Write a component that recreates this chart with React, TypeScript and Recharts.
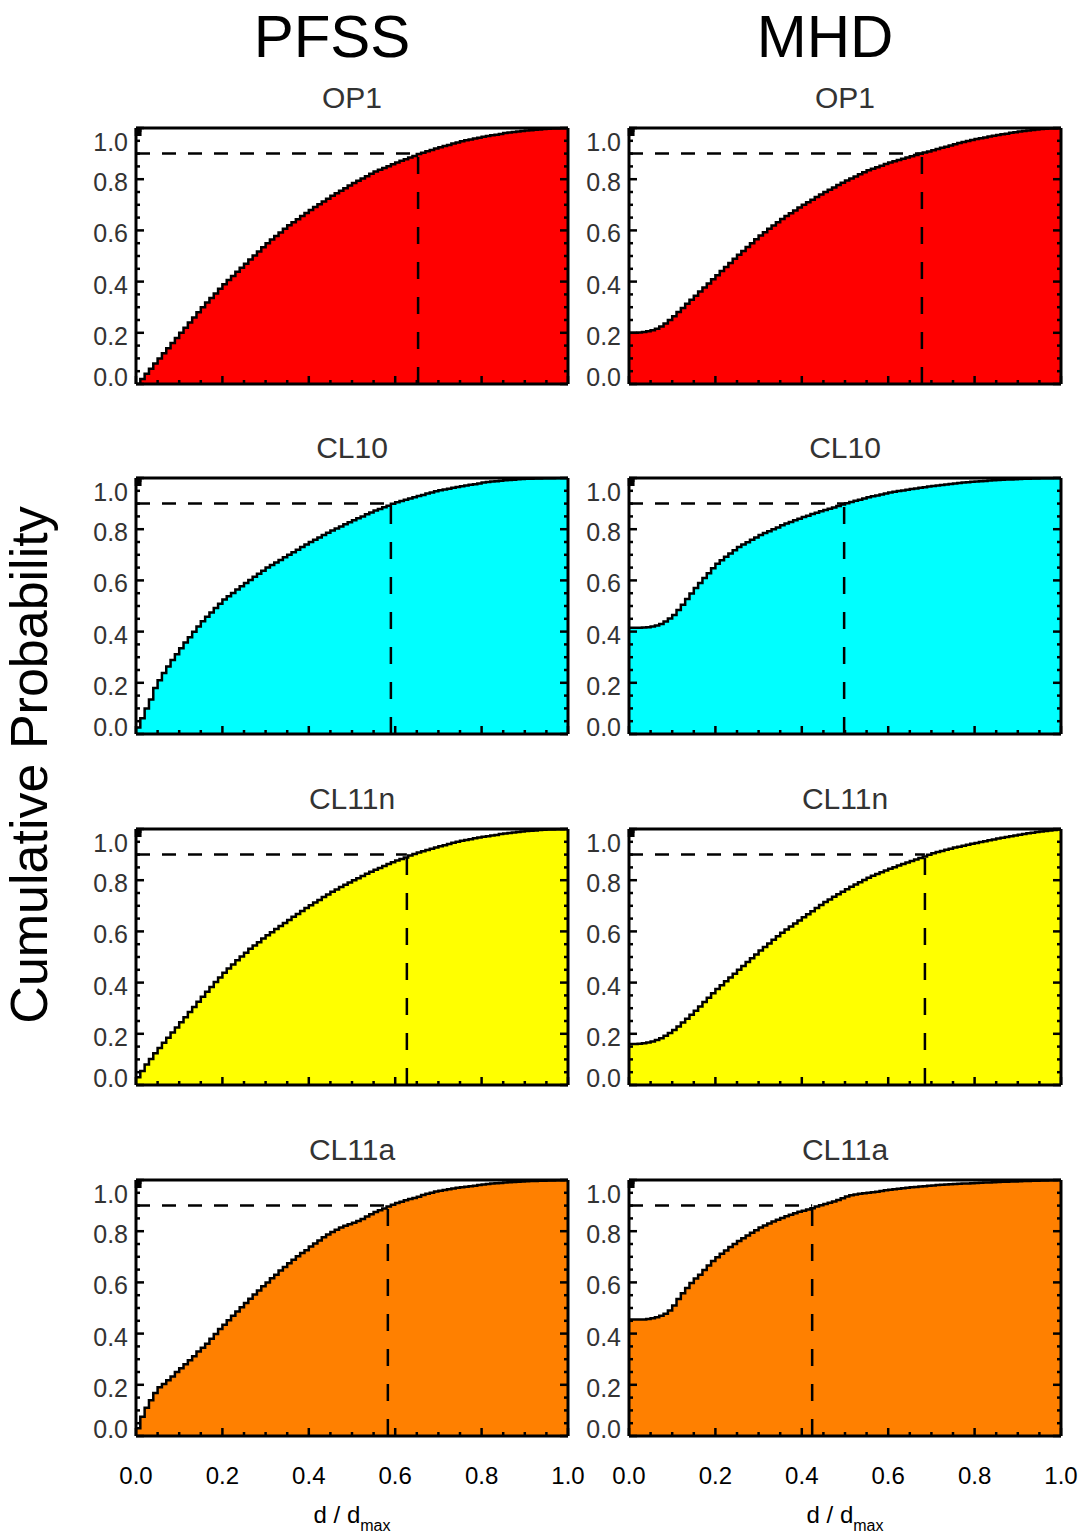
import { Area, AreaChart, ReferenceLine, XAxis, YAxis } from "recharts";

// bin edges of d / d_max
const binEdges = Array.from({ length: 101 }, (_, i) => i / 100);
const tickValues = [0, 0.05, 0.1, 0.15, 0.2, 0.25, 0.3, 0.35, 0.4, 0.45, 0.5, 0.55, 0.6, 0.65, 0.7, 0.75, 0.8, 0.85, 0.9, 0.95, 1];

const models = ["PFSS", "MHD"];
const regions = ["OP1", "CL10", "CL11n", "CL11a"];
const regionColors = ["#ff0000", "#00ffff", "#ffff00", "#ff8000"];

// cumulative probability per bin, in thousandths
const pfssOp1 = [0, 20, 40, 60, 80, 100, 120, 140, 160, 180, 200, 220, 240, 260, 280, 300, 318, 336, 354, 372, 390, 406, 422, 438, 454, 470, 486, 502, 518, 534, 550, 564, 578, 592, 606, 620, 632, 644, 656, 668, 680, 691, 702, 713, 724, 735, 745, 755, 765, 775, 785, 794, 803, 812, 821, 830, 837, 844, 851, 858, 865, 872, 878, 885, 891, 898, 903, 909, 914, 920, 925, 930, 934, 939, 943, 948, 952, 955, 959, 962, 966, 969, 972, 974, 977, 980, 982, 984, 986, 988, 990, 991, 993, 994, 996, 997, 998, 998, 999, 999, 1000];
const mhdOp1 = [200, 200, 201, 203, 206, 210, 216, 225, 236, 250, 265, 281, 297, 313, 329, 345, 361, 377, 393, 409, 425, 441, 457, 473, 489, 505, 520, 535, 550, 565, 580, 593, 606, 619, 632, 645, 656, 667, 678, 689, 700, 710, 720, 730, 740, 750, 759, 768, 777, 786, 795, 803, 811, 819, 827, 835, 841, 847, 853, 859, 865, 870, 875, 880, 885, 890, 895, 899, 904, 908, 913, 918, 923, 927, 932, 937, 941, 945, 949, 953, 957, 960, 963, 967, 970, 973, 976, 978, 981, 983, 986, 988, 990, 992, 994, 996, 997, 998, 998, 999, 1000];
const pfssCl10 = [25, 62, 100, 135, 180, 210, 238, 264, 289, 312, 335, 357, 378, 399, 420, 440, 458, 475, 492, 509, 525, 538, 551, 564, 577, 590, 602, 614, 626, 638, 650, 660, 670, 680, 690, 700, 710, 720, 730, 740, 750, 759, 768, 777, 786, 795, 803, 811, 819, 827, 835, 843, 850, 858, 865, 873, 879, 886, 892, 899, 905, 910, 915, 920, 925, 930, 934, 939, 943, 948, 952, 955, 958, 962, 965, 968, 971, 974, 976, 979, 982, 984, 986, 987, 989, 991, 992, 993, 995, 996, 997, 997, 998, 998, 999, 999, 999, 1000, 1000, 1000, 1000];
const mhdCl10 = [415, 415, 415, 416, 417, 420, 424, 430, 439, 451, 465, 484, 505, 527, 549, 570, 590, 609, 628, 647, 665, 679, 692, 705, 718, 730, 740, 749, 759, 768, 777, 785, 792, 800, 807, 815, 822, 828, 835, 841, 848, 853, 859, 864, 870, 875, 880, 885, 891, 896, 901, 906, 911, 915, 920, 925, 929, 932, 936, 939, 943, 946, 949, 951, 954, 957, 959, 962, 964, 967, 969, 971, 973, 975, 977, 979, 980, 982, 983, 985, 986, 987, 988, 990, 991, 992, 993, 994, 994, 995, 996, 997, 997, 998, 998, 999, 999, 999, 1000, 1000, 1000];
const pfssCl11n = [30, 55, 80, 102, 124, 145, 165, 185, 205, 225, 245, 265, 285, 305, 325, 345, 364, 383, 402, 420, 438, 455, 471, 487, 502, 517, 532, 545, 558, 572, 585, 597, 609, 621, 633, 645, 657, 668, 680, 691, 702, 713, 723, 734, 744, 755, 764, 773, 782, 791, 800, 808, 816, 825, 833, 841, 848, 855, 863, 870, 877, 883, 889, 896, 902, 908, 913, 918, 923, 928, 933, 937, 941, 946, 950, 954, 957, 960, 964, 967, 970, 972, 975, 977, 980, 982, 984, 986, 988, 990, 992, 993, 994, 996, 997, 998, 998, 999, 999, 1000, 1000];
const mhdCl11n = [160, 160, 161, 163, 166, 170, 176, 183, 192, 203, 215, 229, 244, 259, 274, 290, 307, 324, 341, 358, 375, 390, 405, 420, 435, 450, 465, 480, 495, 510, 525, 539, 553, 567, 581, 595, 607, 619, 631, 643, 655, 667, 679, 691, 703, 715, 725, 735, 745, 755, 765, 774, 783, 792, 801, 810, 817, 824, 831, 838, 845, 851, 857, 863, 869, 875, 881, 887, 893, 899, 905, 910, 914, 919, 923, 928, 931, 935, 938, 942, 945, 949, 952, 956, 959, 963, 966, 969, 972, 975, 978, 980, 983, 985, 988, 990, 992, 994, 996, 998, 1000];
const pfssCl11a = [30, 75, 110, 140, 168, 190, 203, 218, 232, 250, 265, 280, 296, 312, 330, 345, 360, 380, 398, 418, 435, 452, 470, 486, 503, 520, 536, 553, 568, 585, 600, 616, 630, 646, 660, 675, 688, 702, 715, 726, 740, 752, 764, 776, 787, 797, 806, 814, 821, 827, 833, 840, 848, 857, 866, 875, 882, 889, 896, 903, 910, 915, 921, 926, 930, 935, 941, 946, 950, 955, 958, 961, 964, 967, 970, 972, 974, 976, 978, 980, 982, 984, 986, 987, 988, 990, 991, 992, 993, 994, 995, 996, 996, 997, 997, 998, 998, 999, 999, 1000, 1000];
const mhdCl11a = [455, 455, 455, 455, 457, 460, 464, 470, 478, 490, 510, 535, 558, 578, 598, 615, 630, 648, 666, 684, 698, 712, 725, 738, 750, 762, 772, 783, 794, 804, 814, 822, 830, 838, 845, 852, 858, 864, 870, 876, 880, 885, 890, 896, 901, 906, 911, 916, 922, 929, 936, 940, 943, 946, 948, 950, 952, 954, 957, 960, 962, 964, 966, 968, 970, 972, 973, 975, 976, 978, 979, 980, 981, 982, 983, 984, 985, 986, 986, 987, 988, 989, 990, 990, 991, 992, 993, 993, 994, 994, 995, 996, 996, 997, 997, 998, 998, 999, 999, 1000, 1000];

// d / d_max where the cumulative probability reaches 0.9
const d90Pfss = [0.653, 0.59, 0.627, 0.583];
const d90Mhd = [0.678, 0.498, 0.685, 0.424];

const pfssSeries = [pfssOp1, pfssCl10, pfssCl11n, pfssCl11a];
const mhdSeries = [mhdOp1, mhdCl10, mhdCl11n, mhdCl11a];

const FONT = "'Liberation Sans', Arial, Helvetica, sans-serif";
const PLOT_W = 432;
const PLOT_H = 256;
const Y_AXIS_W = 60;
const MARGIN = { top: 19, right: 24, bottom: 10, left: 0 };
const CHART_W = Y_AXIS_W + PLOT_W + 1 + MARGIN.right;
const CHART_H = MARGIN.top + 1 + PLOT_H + 50 + MARGIN.bottom;
const COL_LEFT = [136, 629];
const ROW_TOP = [128, 478, 829, 1180];
const MAJOR = 8;
const MINOR = 4;
const TICK_W = 2.5;

const isMajor = (v: number) => Math.abs(v * 5 - Math.round(v * 5)) < 1e-6;

const toRows = (values: number[]) => binEdges.map((d, i) => ({ d, p: values[i] / 1000 }));

function BottomTick({ x, y, payload, showLabel }: any) {
  const v = payload.value;
  const len = isMajor(v) ? MAJOR : MINOR;
  return (
    <g>
      <line x1={x} x2={x} y1={y} y2={y - len} stroke="#000" strokeWidth={TICK_W} />
      {showLabel && isMajor(v) && (
        <text x={x} y={y + 48} textAnchor="middle" fontSize={24} fontFamily={FONT} fill="#000">
          {v.toFixed(1)}
        </text>
      )}
    </g>
  );
}

function TopTick({ x, y, payload }: any) {
  const len = isMajor(payload.value) ? MAJOR : MINOR;
  return <line x1={x} x2={x} y1={y} y2={y + len} stroke="#000" strokeWidth={TICK_W} />;
}

function LeftTick({ x, y, payload }: any) {
  const v = payload.value;
  const len = isMajor(v) ? MAJOR : MINOR;
  const dy = v >= 1 ? 23 : v <= 0 ? 2 : 12;
  return (
    <g>
      <line x1={x} x2={x + len} y1={y} y2={y} stroke="#000" strokeWidth={TICK_W} />
      {isMajor(v) && (
        <text x={x - 8} y={y + dy} textAnchor="end" fontSize={25} fontFamily={FONT} fill="#333">
          {v.toFixed(1)}
        </text>
      )}
    </g>
  );
}

function RightTick({ x, y, payload }: any) {
  const len = isMajor(payload.value) ? MAJOR : MINOR;
  return <line x1={x} x2={x - len} y1={y} y2={y} stroke="#000" strokeWidth={TICK_W} />;
}

const frame = { stroke: "#000", strokeWidth: 3 };

function Panel({ values, color, d90, showX }: { values: number[]; color: string; d90: number; showX: boolean }) {
  return (
    <AreaChart width={CHART_W} height={CHART_H} data={toRows(values)} margin={MARGIN}>
      <Area
        xAxisId="b"
        yAxisId="l"
        type="stepAfter"
        dataKey="p"
        stroke="#000"
        strokeWidth={2.5}
        fill={color}
        fillOpacity={1}
        dot={false}
        activeDot={false}
        isAnimationActive={false}
      />
      <ReferenceLine
        xAxisId="b"
        yAxisId="l"
        segment={[{ x: 0, y: 0.9 }, { x: d90, y: 0.9 }]}
        stroke="#000"
        strokeWidth={2.5}
        strokeDasharray="14 12"
        ifOverflow="visible"
      />
      <ReferenceLine
        xAxisId="b"
        yAxisId="l"
        segment={[{ x: d90, y: 0 }, { x: d90, y: 0.9 }]}
        stroke="#000"
        strokeWidth={2.5}
        strokeDasharray="17 18"
        ifOverflow="visible"
      />
      <XAxis
        xAxisId="b"
        dataKey="d"
        type="number"
        domain={[0, 1]}
        allowDataOverflow
        ticks={tickValues}
        interval={0}
        tickSize={0}
        tickMargin={0}
        tickLine={false}
        axisLine={frame}
        height={50}
        tick={(p: any) => <BottomTick {...p} showLabel={showX} />}
      />
      <XAxis
        xAxisId="t"
        orientation="top"
        type="number"
        domain={[0, 1]}
        allowDataOverflow
        ticks={tickValues}
        interval={0}
        tickSize={0}
        tickMargin={0}
        tickLine={false}
        axisLine={frame}
        height={1}
        tick={(p: any) => <TopTick {...p} />}
      />
      <YAxis
        yAxisId="l"
        type="number"
        domain={[0, 1]}
        allowDataOverflow
        ticks={tickValues}
        interval={0}
        tickSize={0}
        tickMargin={0}
        tickLine={false}
        axisLine={frame}
        width={Y_AXIS_W}
        tick={(p: any) => <LeftTick {...p} />}
      />
      <YAxis
        yAxisId="r"
        orientation="right"
        type="number"
        domain={[0, 1]}
        allowDataOverflow
        ticks={tickValues}
        interval={0}
        tickSize={0}
        tickMargin={0}
        tickLine={false}
        axisLine={frame}
        width={1}
        tick={(p: any) => <RightTick {...p} />}
      />
    </AreaChart>
  );
}

export default function App() {
  const columns = [
    { series: pfssSeries, d90: d90Pfss },
    { series: mhdSeries, d90: d90Mhd },
  ];
  return (
    <div style={{ position: "absolute", left: 0, top: 0, width: 1083, height: 1535, background: "#fff" }}>
      <svg width={1083} height={1535} style={{ position: "absolute", left: 0, top: 0 }} fontFamily={FONT}>
        {models.map((m, c) => (
          <text key={m} x={c === 0 ? 332 : 825} y={57} textAnchor="middle" fontSize={60} fill="#000">
            {m}
          </text>
        ))}
        {COL_LEFT.map((left, c) =>
          regions.map((r, i) => (
            <text key={`${c}-${r}`} x={left + PLOT_W / 2} y={ROW_TOP[i] - 20} textAnchor="middle" fontSize={30} fill="#333">
              {r}
            </text>
          ))
        )}
        {COL_LEFT.map((left) => (
          <text key={`dx-${left}`} x={left + PLOT_W / 2} y={1523} textAnchor="middle" fontSize={24} fill="#000">
            d / d<tspan fontSize={16} dy={8}>max</tspan>
          </text>
        ))}
        <text x={47} y={765} transform="rotate(-90 47 765)" textAnchor="middle" fontSize={52} fill="#000">
          Cumulative Probability
        </text>
      </svg>
      {columns.map((col, c) =>
        regions.map((r, i) => (
          <div
            key={`${c}-${r}-chart`}
            style={{ position: "absolute", left: COL_LEFT[c] - Y_AXIS_W, top: ROW_TOP[i] - 20 }}
          >
            <Panel values={col.series[i]} color={regionColors[i]} d90={col.d90[i]} showX={i === regions.length - 1} />
          </div>
        ))
      )}
    </div>
  );
}
